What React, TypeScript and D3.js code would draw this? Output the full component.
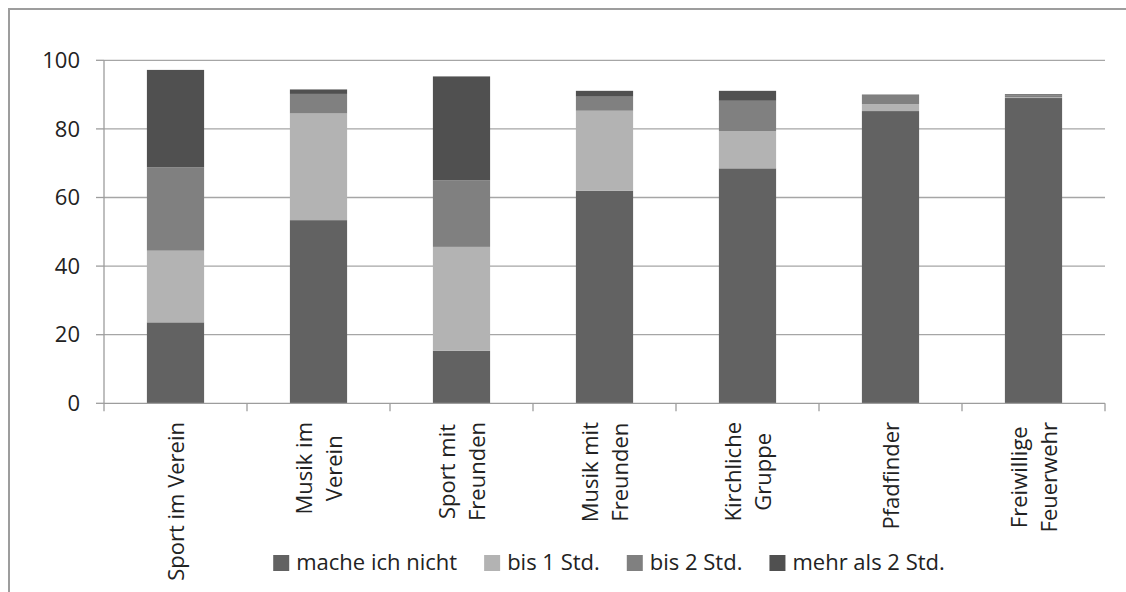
import React, { useEffect, useRef } from "react";
import * as d3 from "d3";

const categories = [
  "Sport im Verein",
  "Musik im Verein",
  "Sport mit Freunden",
  "Musik mit Freunden",
  "Kirchliche Gruppe",
  "Pfadfinder",
  "Freiwillige Feuerwehr",
];
const categoryLines = [
  ["Sport im Verein"],
  ["Musik im", "Verein"],
  ["Sport mit", "Freunden"],
  ["Musik mit", "Freunden"],
  ["Kirchliche", "Gruppe"],
  ["Pfadfinder"],
  ["Freiwillige", "Feuerwehr"],
];
const seriesNames = ["mache ich nicht", "bis 1 Std.", "bis 2 Std.", "mehr als 2 Std."];
const macheIchNicht = [23.6, 53.4, 15.3, 62.0, 68.5, 85.2, 89.0];
const bis1Std = [20.9, 31.1, 30.3, 23.3, 10.8, 2.0, 0.2];
const bis2Std = [24.3, 5.7, 19.4, 4.1, 8.9, 2.5, 0.6];
const mehrAls2Std = [28.4, 1.3, 30.3, 1.7, 2.9, 0.3, 0.3];
const yTicks = [0, 20, 40, 60, 80, 100];
const colors = ["#626262", "#b3b3b3", "#808080", "#505050"];

const FONT = "'Open Sans', 'Noto Sans', sans-serif";

export default function App() {
  const ref = useRef<SVGSVGElement | null>(null);

  useEffect(() => {
    const svg = d3.select(ref.current);
    svg.selectAll("*").remove();

    const W = 1126, H = 592;
    const left = 104, right = 1105, top = 60.3, bottom = 403.3;

    // frame
    svg.append("rect").attr("x", 0).attr("y", 0).attr("width", W).attr("height", H).attr("fill", "#fff");
    svg.append("path").attr("d", `M9,${H + 5} L9,9 L${W + 5},9`).attr("fill", "none").attr("stroke", "#9d9d9d").attr("stroke-width", 2);

    const x = d3.scaleBand<string>().domain(categories).range([left, right]).paddingInner(0.6).paddingOuter(0.3);
    const y = d3.scaleLinear().domain([0, 100]).range([bottom, top]);

    // gridlines
    svg.append("g").selectAll("line").data(yTicks.filter((t) => t > 0)).join("line")
      .attr("x1", left).attr("x2", right)
      .attr("y1", (d) => y(d)).attr("y2", (d) => y(d))
      .attr("stroke", "#a6a6a6").attr("stroke-width", 1.3);

    const rows = categories.map((c, i) => ({
      cat: c,
      s0: macheIchNicht[i],
      s1: bis1Std[i],
      s2: bis2Std[i],
      s3: mehrAls2Std[i],
    }));
    const stack = d3.stack<any>().keys(["s0", "s1", "s2", "s3"]);
    const layers = stack(rows);

    svg.append("g").selectAll("g").data(layers).join("g")
      .attr("fill", (_d, i) => colors[i])
      .selectAll("rect").data((d) => d).join("rect")
      .attr("x", (d: any) => x(d.data.cat)!)
      .attr("width", x.bandwidth())
      .attr("y", (d: any) => y(d[1]))
      .attr("height", (d: any) => y(d[0]) - y(d[1]));

    // y axis
    const ya = svg.append("g");
    ya.append("line").attr("x1", left).attr("x2", left).attr("y1", top).attr("y2", bottom)
      .attr("stroke", "#9d9d9d").attr("stroke-width", 1.3);
    ya.selectAll("line.t").data(yTicks).join("line").attr("class", "t")
      .attr("x1", left - 8).attr("x2", left).attr("y1", (d) => y(d)).attr("y2", (d) => y(d))
      .attr("stroke", "#9d9d9d").attr("stroke-width", 1.3);
    ya.selectAll("text").data(yTicks).join("text")
      .attr("x", 80).attr("y", (d) => y(d)).attr("dy", "0.35em")
      .attr("text-anchor", "end").attr("font-family", FONT).attr("font-size", 22)
      .attr("fill", "#222").text((d) => String(d));

    // x axis
    const xa = svg.append("g");
    xa.append("line").attr("x1", left).attr("x2", right).attr("y1", bottom).attr("y2", bottom)
      .attr("stroke", "#9d9d9d").attr("stroke-width", 1.3);
    const step = x.step();
    const bounds = d3.range(categories.length + 1).map((i) => left + i * step);
    xa.selectAll("line.t").data(bounds).join("line").attr("class", "t")
      .attr("x1", (d) => d).attr("x2", (d) => d).attr("y1", bottom).attr("y2", bottom + 8)
      .attr("stroke", "#9d9d9d").attr("stroke-width", 1.3);

    // category labels (rotated)
    const labelTop = 422;
    const lineH = 30;
    const capH = 16;
    categories.forEach((c, i) => {
      const lines = categoryLines[i];
      const cx = x(c)! + x.bandwidth() / 2;
      const g = xa.append("g");
      const texts = lines.map((ln) =>
        g.append("text").attr("font-family", FONT).attr("font-size", 22).attr("fill", "#222")
          .attr("text-anchor", "middle").text(ln)
      );
      const maxLen = d3.max(texts, (t) => (t.node() as SVGTextElement).getComputedTextLength()) || 0;
      const yc = labelTop + maxLen / 2;
      const b0 = cx + capH / 2 - ((lines.length - 1) * lineH) / 2;
      texts.forEach((t, j) => {
        t.attr("transform", `translate(${b0 + j * lineH},${yc}) rotate(-90)`);
      });
    });

    // legend
    const lg = svg.append("g");
    const items = seriesNames.map((name, i) => {
      const g = lg.append("g");
      g.append("rect").attr("width", 16).attr("height", 16).attr("fill", colors[i]);
      const t = g.append("text").attr("x", 23).attr("y", 15).attr("font-family", FONT)
        .attr("font-size", 22).attr("fill", "#222").text(name);
      const w = 23 + (t.node() as SVGTextElement).getComputedTextLength();
      return { g, w };
    });
    const gap = 27;
    const total = d3.sum(items, (d) => d.w) + gap * (items.length - 1);
    let cur = 609 - total / 2;
    items.forEach((it) => {
      it.g.attr("transform", `translate(${cur},555)`);
      cur += it.w + gap;
    });
  }, []);

  return (
    <svg
      ref={ref}
      width={1126}
      height={592}
      style={{ position: "absolute", left: 0, top: 0 }}
    />
  );
}
